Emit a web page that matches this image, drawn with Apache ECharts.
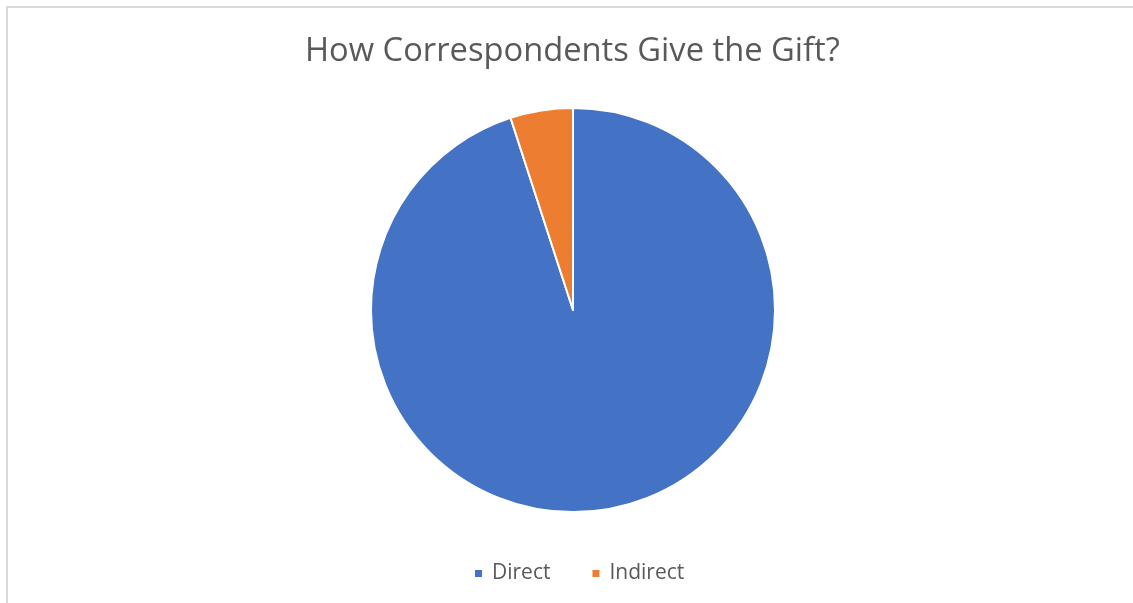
<!DOCTYPE html>
<html>
<head>
<meta charset="utf-8">
<script src="https://cdn.jsdelivr.net/npm/echarts@6/dist/echarts.min.js"></script>
<style>
  html, body { margin: 0; padding: 0; background: #fff; overflow: hidden; }
  #chart { width: 1133px; height: 603px; }
  .frame {
    position: absolute; left: 6px; top: 6px; width: 1200px; height: 700px;
    border-top: 2px solid #d9d9d9; border-left: 2px solid #d9d9d9;
    pointer-events: none;
  }
</style>
</head>
<body>
<div id="chart"></div>
<div class="frame"></div>
<script>
const categories = ['Direct', 'Indirect']
const values = [95, 5]
const colors = ['#4472C4', '#ED7D31']

const chart = echarts.init(document.getElementById('chart'))

chart.setOption({
  animation: false,
  title: {
    text: 'How Correspondents Give the Gift?',
    left: 300,
    top: 30,
    textStyle: {
      fontFamily: 'Open Sans',
      fontSize: 32.7,
      fontWeight: 'normal',
      color: '#595959',
    },
  },
  legend: {
    data: categories,
    bottom: 14,
    left: 468,
    icon: 'rect',
    itemWidth: 9,
    itemHeight: 9,
    itemGap: 40,
    textStyle: { fontFamily: 'Open Sans', fontSize: 21, color: '#595959', padding: [0, 0, 0, 4] },
  },
  series: [
    {
      type: 'pie',
      center: [573, 310],
      radius: 202,
      startAngle: 90,
      clockwise: true,
      label: { show: false },
      labelLine: { show: false },
      itemStyle: { borderColor: '#fff', borderWidth: 2 },
      data: categories.map((name, i) => ({
        name,
        value: values[i],
        itemStyle: { color: colors[i] },
      })),
    },
  ],
})
</script>
</body>
</html>
